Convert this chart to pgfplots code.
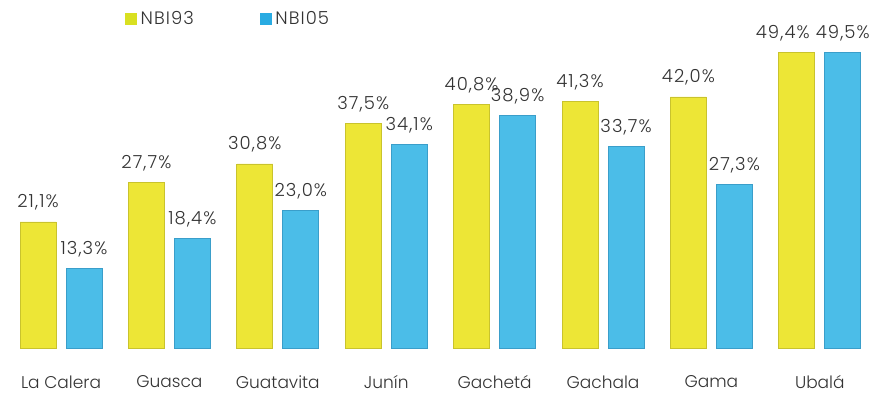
\documentclass[border=0pt]{standalone}
\usepackage{pgfplots}
\pgfplotsset{compat=1.18}
\usepackage{fontspec}
\setmainfont{Poppins Light}
\newfontfamily\widefont{Poppins Light}[LetterSpace=6]

\definecolor{nbiY}{HTML}{EDE636}
\definecolor{nbiYd}{HTML}{C9C32D}
\definecolor{nbiB}{HTML}{4BBDE8}
\definecolor{nbiBd}{HTML}{3A9ECA}
\definecolor{legY}{HTML}{D9E021}
\definecolor{legB}{HTML}{29ABE2}
\definecolor{txt}{HTML}{333333}

\begin{document}
\begin{tikzpicture}
\begin{axis}[
  scale only axis,
  width=878pt, height=348pt,
  xmin=-0.563, xmax=7.537,
  ymin=0, ymax=58.2,
  clip=false,
  ybar, bar width=36pt,
  axis line style={draw=none},
  ytick=\empty,
  xtick=data,
  xticklabels={La Calera,Guasca,Guatavita,Junín,Gachetá,Gachala,Gama,Ubalá},
  major tick length=0pt,
  xticklabel style={yshift=-24pt, font=\fontsize{17}{20}\selectfont, text=txt},
  nodes near coords={\pgfmathprintnumber[use comma,fixed,fixed zerofill,precision=1]{\pgfplotspointmeta}\%},
  every node near coord/.append style={font=\widefont\fontsize{18}{20}\selectfont, text=txt, yshift=10pt, inner sep=1pt},
  /pgf/number format/assume math mode=true,
  legend columns=2,
  legend style={draw=none, fill=none, at={(rel axis cs:0.139,0.979)}, anchor=north west,
    font=\widefont\fontsize{18}{20}\selectfont, text=txt,
    /tikz/every odd column/.append style={column sep=2pt},
    /tikz/every even column/.append style={column sep=64pt}},
  legend image code/.code={\fill[#1] (0pt,-5.5pt) rectangle (11pt,5.5pt);},
]
% legend swatches
\addlegendimage{legY}
\addlegendentry{NBI93}
\addlegendimage{legB}
\addlegendentry{NBI05}

% NBI 1993 (the last label is nudged left so it clears its neighbour)
\addplot[fill=nbiY, draw=nbiYd, line width=0.8pt, bar shift=-23pt, forget plot,
  visualization depends on={x \as \xv},
  every node near coord/.append style={xshift={(\xv>6.5)*(-14pt)}}] coordinates {
  (0,21.1) (1,27.7) (2,30.8) (3,37.5) (4,40.8) (5,41.3) (6,42.0) (7,49.4)};
% NBI 2005
\addplot[fill=nbiB, draw=nbiBd, line width=0.8pt, bar shift=23pt, forget plot] coordinates {
  (0,13.3) (1,18.4) (2,23.0) (3,34.1) (4,38.9) (5,33.7) (6,27.3) (7,49.5)};
\end{axis}
\path (current axis.south west) ++(0,-46pt) rectangle (current axis.north east);
\end{tikzpicture}
\end{document}
